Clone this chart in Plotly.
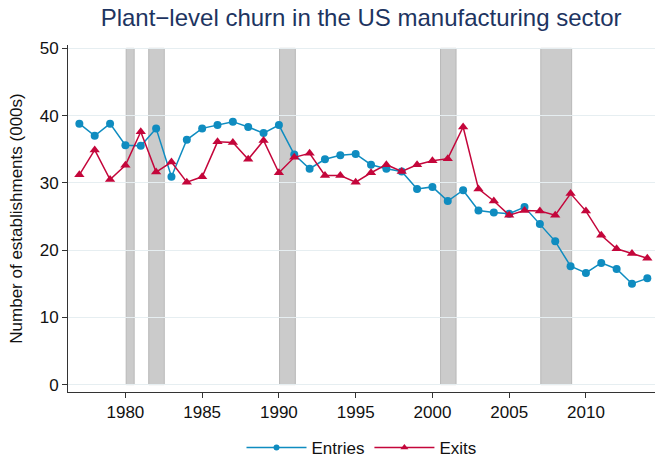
import plotly.graph_objects as go

# Annual data, 1977-2014 (thousands of establishments)
years = list(range(1977, 2015))
entries = [38.8, 37.0, 38.8, 35.6, 35.5, 38.1, 30.9, 36.4, 38.1, 38.6,
           39.1, 38.3, 37.4, 38.6, 34.2, 32.1, 33.5, 34.1, 34.3, 32.7,
           32.1, 31.7, 29.1, 29.4, 27.3, 28.9, 25.9, 25.6, 25.4, 26.4,
           23.9, 21.3, 17.6, 16.6, 18.1, 17.2, 15.0, 15.8]
exits = [31.2, 34.9, 30.5, 32.6, 37.6, 31.6, 33.1, 30.1, 30.9, 36.1,
         36.0, 33.5, 36.3, 31.5, 33.8, 34.4, 31.1, 31.1, 30.1, 31.5,
         32.7, 31.7, 32.7, 33.3, 33.6, 38.3, 29.1, 27.3, 25.2, 25.9,
         25.8, 25.2, 28.4, 25.8, 22.2, 20.2, 19.5, 18.8]

# Recession periods (fractional years)
rec_start = [1980.05, 1981.52, 1990.04, 2000.53, 2007.06]
rec_end = [1980.57, 1982.53, 1991.07, 2001.54, 2009.07]

blue = '#0f8cc0'
red = '#c4063b'
font = 'Liberation Sans, Arial, sans-serif'

fig = go.Figure()

for s, e in zip(rec_start, rec_end):
    fig.add_shape(type='rect', xref='x', yref='y', x0=s, x1=e, y0=0, y1=50,
                  fillcolor='#cbcbcb', line=dict(color='#b8b8b8', width=1),
                  layer='below')

fig.add_trace(go.Scatter(
    x=years, y=entries, name='Entries', mode='lines+markers',
    line=dict(color=blue, width=1.5), legendgroup='en', showlegend=False,
    marker=dict(symbol='circle', size=8, color=blue)
))
fig.add_trace(go.Scatter(
    x=years, y=exits, name='Exits', mode='lines+markers',
    line=dict(color=red, width=1.5), legendgroup='ex', showlegend=False,
    marker=dict(symbol='triangle-up', size=9, color=red)
))

# legend keys with the smaller markers of the reference
fig.add_trace(go.Scatter(
    x=[None], y=[None], name='Entries', mode='lines+markers', legendgroup='en',
    line=dict(color=blue, width=1.5), marker=dict(symbol='circle', size=6, color=blue)
))
fig.add_trace(go.Scatter(
    x=[None], y=[None], name='Exits', mode='lines+markers', legendgroup='ex',
    line=dict(color=red, width=1.5), marker=dict(symbol='triangle-up', size=7, color=red)
))

fig.update_layout(
    width=659, height=462,
    margin=dict(l=68, r=4, t=45, b=70, autoexpand=False),
    paper_bgcolor='white', plot_bgcolor='white',
    font=dict(family=font, size=15, color='#111111'),
    title=dict(text='Plant\u2212level churn in the US manufacturing sector',
               x=0.548, xanchor='center', y=0.962, yanchor='middle',
               font=dict(size=24, color='#1d3461')),
    showlegend=True,
    legend=dict(orientation='h', x=0.5, xanchor='center', y=-0.161,
                yanchor='middle', font=dict(size=17), itemwidth=60),
)

fig.update_xaxes(
    range=[1976.26, 2014.5], tickmode='array',
    tickvals=[1980, 1985, 1990, 1995, 2000, 2005, 2010],
    showgrid=False, zeroline=False, automargin=False,
    showline=True, linecolor='#333333', linewidth=1,
    ticks='outside', ticklen=5, tickcolor='#333333',
    tickfont=dict(size=17)
)
fig.update_yaxes(
    range=[-1.1, 50.5], tickvals=[0, 10, 20, 30, 40, 50], automargin=False,
    title=dict(text='Number of establishments (000s)', font=dict(size=17), standoff=12),
    showgrid=True, gridcolor='#e6eef1', gridwidth=1, zeroline=False,
    showline=True, linecolor='#333333', linewidth=1,
    ticks='outside', ticklen=5, tickcolor='#333333',
    tickfont=dict(size=17)
)

fig.write_html("out.html", config={'displayModeBar': False},
               post_script="document.body.style.margin='0';")
